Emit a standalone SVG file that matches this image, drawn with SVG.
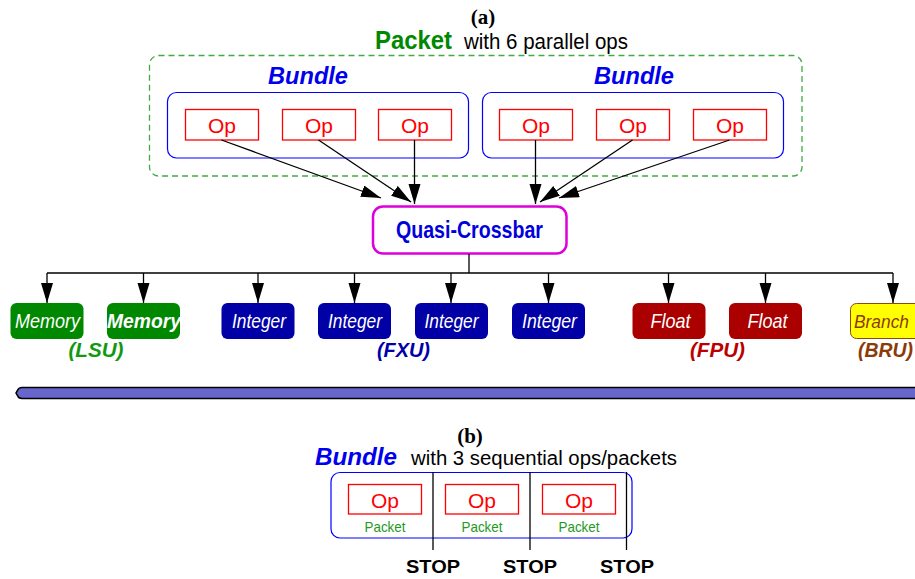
<svg xmlns="http://www.w3.org/2000/svg" width="915" height="579" viewBox="0 0 915 579">
<style>
text{font-family:"Liberation Sans",Arial,sans-serif}
.cap{font-family:"Liberation Serif","Times New Roman",serif;font-weight:bold;font-size:21px;text-anchor:middle}
.bundleT{font-weight:bold;font-style:italic;font-size:23px;fill:#0000ee}
.bbox{fill:none;stroke:#0000ff;stroke-width:1.2}
.op{fill:#fff;stroke:#ff0000;stroke-width:1.3}
.opT{font-size:21px;fill:#ff0000;text-anchor:middle}
.unit{stroke:none}
.unitT{font-style:italic;font-size:21px;fill:#fff;text-anchor:middle}
.grpT{font-style:italic;font-weight:bold;font-size:20px;text-anchor:middle}
.conn line,.conn path{stroke:#000;stroke-width:1.3;fill:none}
.stop{font-weight:bold;font-size:19px;text-anchor:middle;fill:#000}
.pk{font-size:15px;fill:#229922;text-anchor:middle}
</style>
<defs>
<marker id="ah" markerUnits="userSpaceOnUse" markerWidth="21" markerHeight="13" refX="20" refY="6" orient="auto">
<path d="M0,0 L20,6 L0,12 z" fill="#000"/>
</marker>
</defs>

<text class="cap" x="483" y="24">(a)</text>
<g id="packet-title">
<text x="375" y="49" font-size="25" font-weight="bold" fill="#008800" textLength="77" lengthAdjust="spacingAndGlyphs">Packet</text>
<text x="464" y="49" font-size="22" fill="#000" textLength="164" lengthAdjust="spacingAndGlyphs">with 6 parallel ops</text>
</g>
<g id="packet">
<rect x="149.5" y="55.5" width="652.5" height="120.5" rx="9" fill="none" stroke="#44aa44" stroke-width="1.3" stroke-dasharray="6,4"/>
</g>

<g id="bundle-left">
<text class="bundleT" x="268" y="84" textLength="80" lengthAdjust="spacingAndGlyphs">Bundle</text>
<rect class="bbox" x="167.5" y="92.5" width="301" height="65.5" rx="9"/>
</g>
<g id="bundle-right">
<text class="bundleT" x="594" y="84" textLength="80" lengthAdjust="spacingAndGlyphs">Bundle</text>
<rect class="bbox" x="482.5" y="92.5" width="301" height="65.5" rx="9"/>
</g>

<g id="op1"><rect class="op" x="185.5" y="109.5" width="73" height="30.5"/><text class="opT" x="222" y="132.5">Op</text></g>
<g id="op2"><rect class="op" x="282.5" y="109.5" width="73" height="30.5"/><text class="opT" x="319" y="132.5">Op</text></g>
<g id="op3"><rect class="op" x="378.5" y="109.5" width="73" height="30.5"/><text class="opT" x="415" y="132.5">Op</text></g>
<g id="op4"><rect class="op" x="499.5" y="109.5" width="73" height="30.5"/><text class="opT" x="536" y="132.5">Op</text></g>
<g id="op5"><rect class="op" x="596.5" y="109.5" width="73" height="30.5"/><text class="opT" x="633" y="132.5">Op</text></g>
<g id="op6"><rect class="op" x="693.5" y="109.5" width="73" height="30.5"/><text class="opT" x="730" y="132.5">Op</text></g>

<g id="crossbar">
<rect x="373" y="206.5" width="193.5" height="47" rx="10" fill="#fff" stroke="#dd00dd" stroke-width="2.5"/>
<text x="469.5" y="238" font-size="24" font-weight="bold" fill="#0000dd" text-anchor="middle" textLength="147" lengthAdjust="spacingAndGlyphs">Quasi-Crossbar</text>
</g>

<g class="conn" id="connectors">
<line x1="221.5" y1="140" x2="381" y2="198" marker-end="url(#ah)"/>
<line x1="318.5" y1="140" x2="411" y2="202" marker-end="url(#ah)"/>
<line x1="414.5" y1="140" x2="414.5" y2="204" marker-end="url(#ah)"/>
<line x1="535.5" y1="140" x2="535.5" y2="204" marker-end="url(#ah)"/>
<line x1="632.5" y1="140" x2="540" y2="202" marker-end="url(#ah)"/>
<line x1="729.5" y1="140" x2="559" y2="198" marker-end="url(#ah)"/>
<line x1="469" y1="254" x2="469" y2="273"/>
<line x1="47" y1="273" x2="893" y2="273"/>
<line x1="47" y1="273" x2="47" y2="303" marker-end="url(#ah)"/>
<line x1="143.5" y1="273" x2="143.5" y2="303" marker-end="url(#ah)"/>
<line x1="258" y1="273" x2="258" y2="303" marker-end="url(#ah)"/>
<line x1="354.5" y1="273" x2="354.5" y2="303" marker-end="url(#ah)"/>
<line x1="451" y1="273" x2="451" y2="303" marker-end="url(#ah)"/>
<line x1="548.5" y1="273" x2="548.5" y2="303" marker-end="url(#ah)"/>
<line x1="668.5" y1="273" x2="668.5" y2="303" marker-end="url(#ah)"/>
<line x1="765.5" y1="273" x2="765.5" y2="303" marker-end="url(#ah)"/>
<line x1="893" y1="273" x2="893" y2="303" marker-end="url(#ah)"/>
</g>

<g id="mem1"><rect class="unit" x="10.5" y="303" width="73" height="36" rx="6" fill="#008800"/><text class="unitT" x="47.5" y="328" textLength="65" lengthAdjust="spacingAndGlyphs">Memory</text></g>
<g id="mem2"><rect class="unit" x="107" y="303" width="73" height="36" rx="6" fill="#008800"/><text class="unitT" x="144" y="328" font-weight="bold" textLength="74" lengthAdjust="spacingAndGlyphs">Memory</text></g>
<g id="int1"><rect class="unit" x="221.5" y="303" width="73" height="36" rx="6" fill="#0000a6"/><text class="unitT" x="259" y="328" textLength="54" lengthAdjust="spacingAndGlyphs">Integer</text></g>
<g id="int2"><rect class="unit" x="318" y="303" width="73" height="36" rx="6" fill="#0000a6"/><text class="unitT" x="355" y="328" textLength="54" lengthAdjust="spacingAndGlyphs">Integer</text></g>
<g id="int3"><rect class="unit" x="415" y="303" width="73" height="36" rx="6" fill="#0000a6"/><text class="unitT" x="451.5" y="328" textLength="54" lengthAdjust="spacingAndGlyphs">Integer</text></g>
<g id="int4"><rect class="unit" x="512" y="303" width="73" height="36" rx="6" fill="#0000a6"/><text class="unitT" x="549.5" y="328" textLength="55" lengthAdjust="spacingAndGlyphs">Integer</text></g>
<g id="float1"><rect class="unit" x="632.5" y="303" width="73" height="36" rx="6" fill="#aa0000"/><text class="unitT" x="670.5" y="328" textLength="40" lengthAdjust="spacingAndGlyphs">Float</text></g>
<g id="float2"><rect class="unit" x="729" y="303" width="73" height="36" rx="6" fill="#aa0000"/><text class="unitT" x="767.5" y="328" textLength="40" lengthAdjust="spacingAndGlyphs">Float</text></g>
<g id="branch"><rect x="850.5" y="303.5" width="80" height="35" rx="6" fill="#ffff00" stroke="#8b4a10" stroke-width="1"/><text x="854" y="328" font-style="italic" font-size="19" fill="#8b3a0a" textLength="55" lengthAdjust="spacingAndGlyphs">Branch</text></g>

<g id="labels">
<text class="grpT" x="96" y="357" fill="#119911" textLength="55" lengthAdjust="spacingAndGlyphs">(LSU)</text>
<text class="grpT" x="403.5" y="357" fill="#0000aa" textLength="53" lengthAdjust="spacingAndGlyphs">(FXU)</text>
<text class="grpT" x="717.5" y="357" fill="#bb0000" textLength="55" lengthAdjust="spacingAndGlyphs">(FPU)</text>
<text class="grpT" x="885.5" y="357" fill="#8b3a0a" textLength="55" lengthAdjust="spacingAndGlyphs">(BRU)</text>
</g>

<g id="bus">
<path d="M916,387.5 H22 Q18.5,387.5 17.5,390.5 L16,393 L17.5,395.5 Q18.5,398.5 22,398.5 H916" fill="#6666cc" stroke="#000" stroke-width="1.5"/>
</g>

<text class="cap" x="470" y="443">(b)</text>
<g id="bundle-b-title">
<text x="315" y="465" font-weight="bold" font-style="italic" font-size="23" fill="#0000ee" textLength="82" lengthAdjust="spacingAndGlyphs">Bundle</text>
<text x="411" y="465" font-size="20" fill="#000" textLength="266" lengthAdjust="spacingAndGlyphs">with 3 sequential ops/packets</text>
</g>
<g id="bundle-b">
<rect class="bbox" x="331" y="472.5" width="301" height="65.5" rx="9"/>
</g>
<g id="packet1"><rect class="op" x="348.5" y="484.5" width="73" height="29.5"/><text class="opT" x="385" y="507.5">Op</text><text class="pk" x="385" y="532" textLength="41" lengthAdjust="spacingAndGlyphs">Packet</text></g>
<g id="packet2"><rect class="op" x="445.5" y="484.5" width="73" height="29.5"/><text class="opT" x="482" y="507.5">Op</text><text class="pk" x="482" y="532" textLength="41" lengthAdjust="spacingAndGlyphs">Packet</text></g>
<g id="packet3"><rect class="op" x="542.5" y="484.5" width="73" height="29.5"/><text class="opT" x="579" y="507.5">Op</text><text class="pk" x="579" y="532" textLength="41" lengthAdjust="spacingAndGlyphs">Packet</text></g>
<g class="conn" id="stops">
<line x1="433" y1="472" x2="433" y2="550"/>
<line x1="530" y1="472" x2="530" y2="550"/>
<line x1="626.5" y1="472" x2="626.5" y2="550"/>
</g>
<g id="stop-labels">
<text class="stop" x="433" y="573" textLength="54" lengthAdjust="spacingAndGlyphs">STOP</text>
<text class="stop" x="530" y="573" textLength="54" lengthAdjust="spacingAndGlyphs">STOP</text>
<text class="stop" x="627" y="573" textLength="54" lengthAdjust="spacingAndGlyphs">STOP</text>
</g>
</svg>
